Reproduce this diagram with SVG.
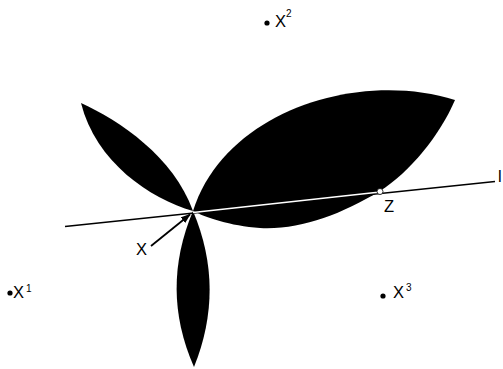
<svg xmlns="http://www.w3.org/2000/svg" width="503" height="369" viewBox="0 0 503 369">
<style>
.lbl{font-family:"Liberation Sans",Arial,sans-serif;font-size:16.5px;fill:#000}
.sup{font-family:"Liberation Sans",Arial,sans-serif;font-size:10px;fill:#000}
.lobe{fill:#000;stroke:none}
</style>
<defs>
<marker id="ah" markerWidth="10" markerHeight="7" refX="9" refY="3.5" orient="auto" markerUnits="userSpaceOnUse">
<path d="M0,0 L10,3.5 L0,7 Z" fill="#000"/>
</marker>
</defs>
<rect width="503" height="369" fill="#fff"/>
<g id="lobe-big"><path class="lobe" d="M193,211 C225,110 360,70 455,100 C440,135 410,172 380,191 C340,215 300,230 260,228 C230,226 205,217 193,211 Z"/></g>
<g id="lobe-left"><path class="lobe" d="M81,103 C119.4,120.5 173.4,156.5 193,211 C150,198.5 96,162.5 81,103 Z"/></g>
<g id="lobe-bottom"><path class="lobe" d="M193,211 C215,263 215,315 194,367 C171,315 171,263 193,211 Z"/></g>
<g id="connectors">
<line x1="65" y1="226.5" x2="495" y2="181.5" stroke="#000" stroke-width="1.6"/>
<line x1="193" y1="212.5" x2="380" y2="192" stroke="#fff" stroke-width="1.5"/>
<line x1="151" y1="246" x2="190" y2="214.5" stroke="#000" stroke-width="1.8" marker-end="url(#ah)"/>
</g>
<g id="point-z"><circle cx="380" cy="191.5" r="3" fill="#fff" stroke="#000" stroke-width="0.8"/><text class="lbl" x="384" y="212">Z</text></g>
<g id="point-x"><text class="lbl" x="136" y="255">X</text></g>
<g id="label-l"><text class="lbl" x="498" y="182">l</text></g>
<g id="point-x1"><circle cx="10" cy="293" r="2.6" fill="#000"/><text class="lbl" x="13" y="298">X</text><text class="sup" x="26" y="292">1</text></g>
<g id="point-x2"><circle cx="267" cy="23" r="2.6" fill="#000"/><text class="lbl" x="275" y="27">X</text><text class="sup" x="286" y="17">2</text></g>
<g id="point-x3"><circle cx="383" cy="296" r="2.6" fill="#000"/><text class="lbl" x="393" y="298">X</text><text class="sup" x="406" y="291">3</text></g>
</svg>
